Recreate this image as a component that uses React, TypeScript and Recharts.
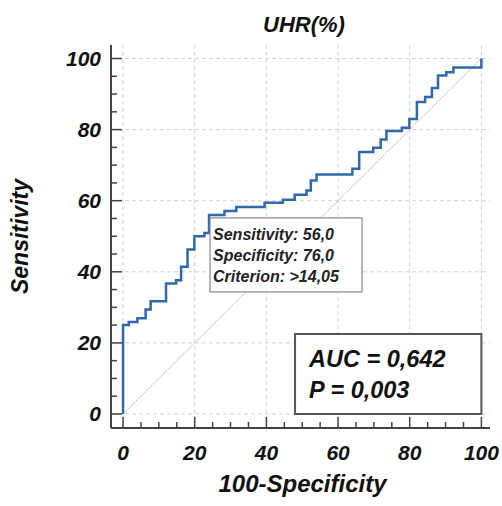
import { LineChart, Line, XAxis, YAxis, CartesianGrid, ReferenceLine, ReferenceDot, ReferenceArea } from 'recharts';

// ROC curve points (100-Specificity, Sensitivity)
const fpr = [0, 0, 1.6, 4.0, 6.3, 7.7, 12.0, 14.8, 16.2, 18.0, 19.9, 22.7, 24.0, 28.3, 31.6, 39.5, 44.6, 47.9, 51.2, 52.4, 54.0, 64.0, 65.9, 69.8, 71.9, 73.5, 77.8, 79.9, 82.0, 84.3, 86.2, 87.9, 90.2, 92.2, 100];
const sens = [0, 25.0, 25.9, 26.9, 29.4, 31.7, 36.7, 37.6, 41.4, 46.3, 50.0, 50.9, 56.0, 57.1, 58.2, 59.4, 60.3, 61.7, 62.9, 65.7, 67.4, 69.0, 73.7, 74.9, 77.2, 79.6, 80.5, 83.0, 87.8, 89.2, 91.7, 95.2, 96.1, 97.5, 100];

const tickValues = [0, 5, 10, 15, 20, 25, 30, 35, 40, 45, 50, 55, 60, 65, 70, 75, 80, 85, 90, 95, 100];
const majorValues = [0, 20, 40, 60, 80, 100];

const criterion = { x: 24, y: 56 };
const criterionLines = ['Sensitivity: 56,0', 'Specificity: 76,0', 'Criterion: >14,05'];
const statLines = ['AUC = 0,642', 'P = 0,003'];

const data = fpr.map((x, i) => ({ x, y: sens[i] }));

const FONT = '"Liberation Sans", Arial, sans-serif';
const AXIS = '#444';

const YTick = (props: any) => {
  const { x, y, payload } = props;
  const ax = x + 12;
  const major = payload.value % 20 === 0;
  return (
    <g>
      <line x1={ax} x2={ax + (major ? 11 : 6)} y1={y} y2={y} stroke={AXIS} strokeWidth={1.5} />
      {major && (
        <text x={x + 2} y={y} dy={7} textAnchor="end" fontFamily={FONT} fontSize={21} fontWeight="bold" fontStyle="italic" fill="#111">
          {payload.value}
        </text>
      )}
    </g>
  );
};

const XTick = (props: any) => {
  const { x, y, payload } = props;
  const ay = y - 12;
  const major = payload.value % 20 === 0;
  return (
    <g>
      <line x1={x} x2={x} y1={ay} y2={ay - (major ? 11 : 6)} stroke={AXIS} strokeWidth={1.5} />
      {major && (
        <text x={x} y={y} dy={20} textAnchor="middle" fontFamily={FONT} fontSize={21} fontWeight="bold" fontStyle="italic" fill="#111">
          {payload.value}
        </text>
      )}
    </g>
  );
};

const CriterionBox = (props: any) => {
  const { cx, cy } = props;
  const left = cx + 1;
  const top = cy + 3;
  return (
    <g>
      <rect x={left} y={top} width={152} height={74} fill="#fff" stroke="#888" strokeWidth={1.2} />
      {criterionLines.map((t, i) => (
        <text key={i} x={left + 3} y={top + 22 + i * 21} fontFamily={FONT} fontSize={16} fontWeight="bold" fontStyle="italic" fill="#222">
          {t}
        </text>
      ))}
    </g>
  );
};

const StatLabel = (props: any) => {
  const vb = props.viewBox;
  return (
    <g>
      {statLines.map((t, i) => (
        <text key={i} x={vb.x + 14} y={vb.y + 33 + i * 31} fontFamily={FONT} fontSize={23.5} fontWeight="bold" fontStyle="italic" fill="#111">
          {t}
        </text>
      ))}
    </g>
  );
};

export default function App() {
  return (
    <div style={{ position: 'absolute', left: 0, top: 0, width: 502, height: 506, background: '#fff' }}>
      <LineChart width={502} height={506} data={data} margin={{ top: 45, right: 12, bottom: 0, left: 0 }}>
        <CartesianGrid stroke="#d4d4d4" strokeDasharray="4 3" horizontalValues={majorValues} verticalValues={majorValues} />
        <XAxis
          dataKey="x"
          type="number"
          domain={[-3.36, 102.4]}
          allowDataOverflow
          ticks={tickValues}
          interval={0}
          height={78}
          tickSize={8}
          tickMargin={4}
          tickLine={false}
          axisLine={{ stroke: AXIS, strokeWidth: 2 }}
          tick={<XTick />}
          label={{
            content: (p: any) => (
              <text x={p.viewBox.x + p.viewBox.width / 2 + 2} y={p.viewBox.y + 64} textAnchor="middle" fontFamily={FONT} fontSize={24} fontWeight="bold" fontStyle="italic" fill="#111">
                100-Specificity
              </text>
            ),
          }}
        />
        <YAxis
          type="number"
          domain={[-3.94, 103.8]}
          allowDataOverflow
          ticks={tickValues}
          interval={0}
          width={111}
          tickSize={8}
          tickMargin={4}
          tickLine={false}
          axisLine={{ stroke: AXIS, strokeWidth: 2 }}
          tick={<YTick />}
          label={{
            content: (p: any) => {
              const cy = p.viewBox.y + p.viewBox.height / 2;
              return (
                <text x={28} y={cy} transform={`rotate(-90 28 ${cy})`} textAnchor="middle" fontFamily={FONT} fontSize={23} fontWeight="bold" fontStyle="italic" fill="#111">
                  Sensitivity
                </text>
              );
            },
          }}
        />
        <ReferenceLine segment={[{ x: 0, y: 0 }, { x: 100, y: 100 }]} stroke="#e3a3a3" strokeWidth={1} strokeDasharray="2 1" />
        <Line dataKey="y" type="stepAfter" stroke="#2f69ab" strokeWidth={2.5} dot={false} isAnimationActive={false} />
        <ReferenceArea x1={48} x2={100} y1={0} y2={22.5} fill="#fff" fillOpacity={1} stroke="#555" strokeWidth={2} label={<StatLabel />} />
        <ReferenceDot x={criterion.x} y={criterion.y} r={0} shape={<CriterionBox />} />
      </LineChart>
      <svg width={502} height={50} style={{ position: 'absolute', left: 0, top: 0, pointerEvents: 'none' }}>
        <text x={304} y={32} textAnchor="middle" fontFamily={FONT} fontSize={22} fontWeight="bold" fontStyle="italic" fill="#111">
          UHR(%)
        </text>
      </svg>
    </div>
  );
}
